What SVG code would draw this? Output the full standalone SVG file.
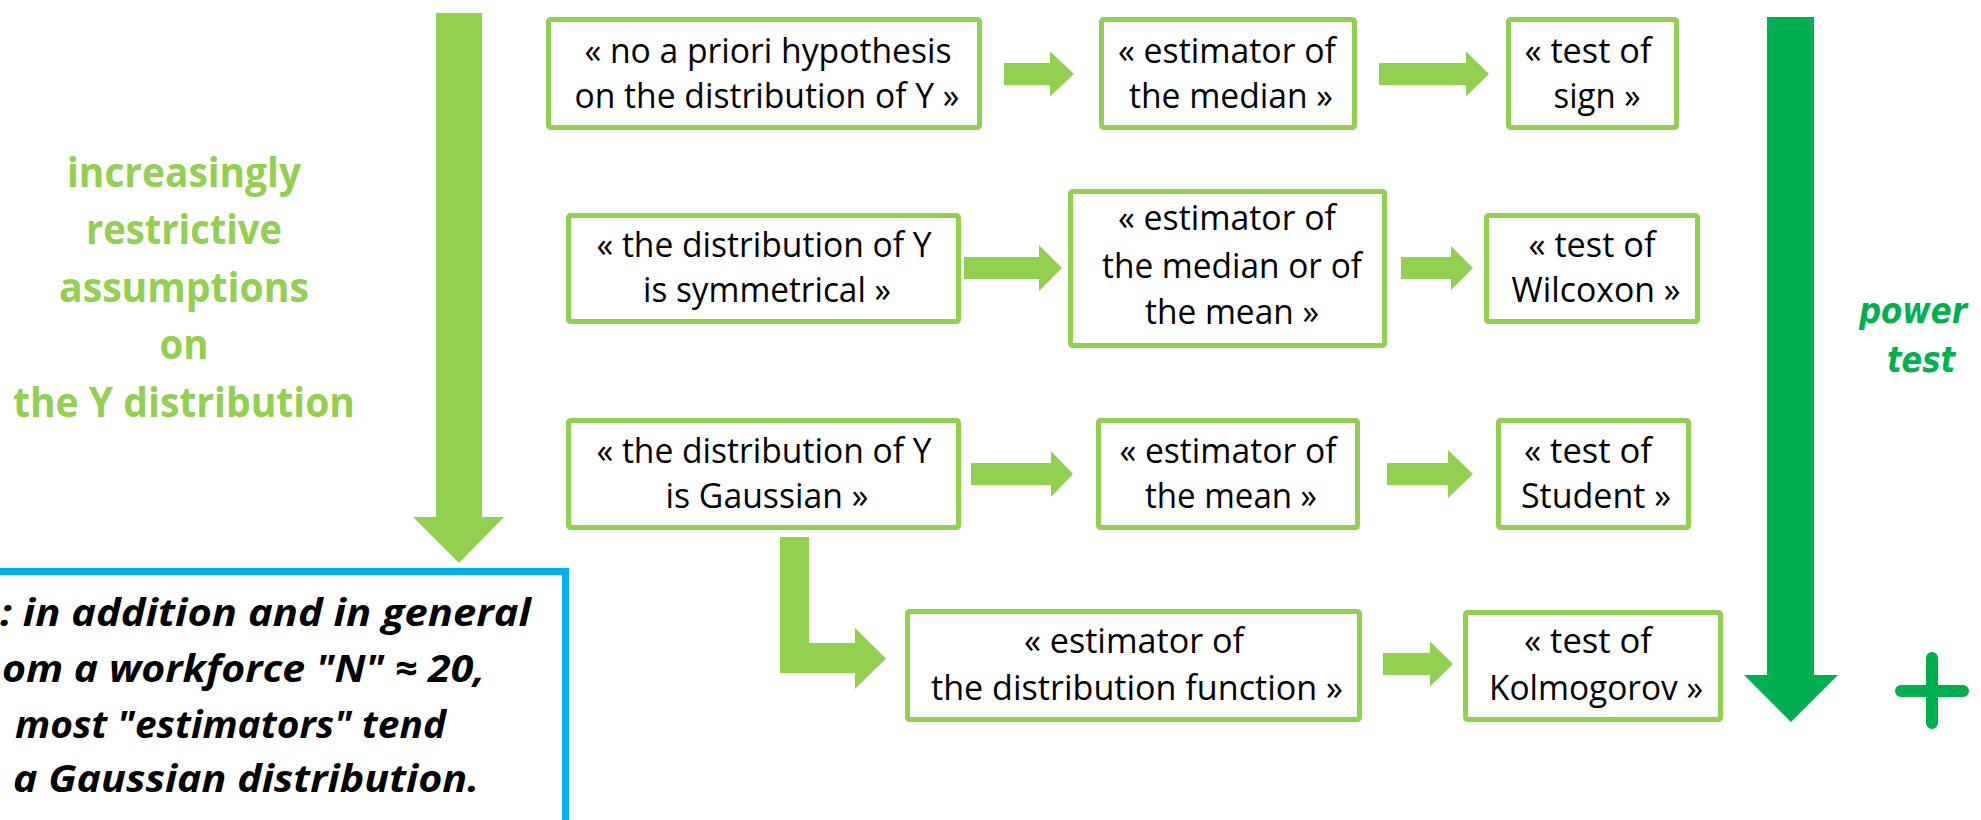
<svg xmlns="http://www.w3.org/2000/svg" width="1981" height="820" viewBox="0 0 1981 820">
<style>
.bg{fill:#ffffff}
.box{fill:#ffffff;stroke:#92D050;stroke-width:5}
.t{font-family:"Open Sans","Liberation Sans",sans-serif;font-size:34px;fill:#000000;text-anchor:middle}
.lt{font-family:"Open Sans","Liberation Sans",sans-serif;font-size:42px;font-weight:bold;fill:#92D050;text-anchor:middle}
.pt{font-family:"DejaVu Sans","Liberation Sans",sans-serif;font-size:36px;font-weight:bold;font-style:italic;fill:#00B050;text-anchor:middle}
.nt{font-family:"Open Sans","Liberation Sans",sans-serif;font-size:38px;font-weight:bold;font-style:italic;fill:#000000}
.arr{fill:#92D050}
.big{fill:#92D050}
.pow{fill:#00B050}
</style>
<rect class="bg" x="0" y="0" width="1981" height="820"/>

<g id="assumptions-arrow">
<polygon class="big" points="436,13 482,13 482,517 504,517 459,563 413,517 436,517"/>
<text class="lt" x="184" y="187" textLength="234" lengthAdjust="spacingAndGlyphs">increasingly</text>
<text class="lt" x="184" y="244" textLength="196" lengthAdjust="spacingAndGlyphs">restrictive</text>
<text class="lt" x="184" y="302" textLength="250" lengthAdjust="spacingAndGlyphs">assumptions</text>
<text class="lt" x="184" y="359" textLength="49" lengthAdjust="spacingAndGlyphs">on</text>
<text class="lt" x="184" y="417" textLength="342" lengthAdjust="spacingAndGlyphs">the Y distribution</text>
</g>

<g id="power-arrow">
<polygon class="pow" points="1767,17 1814,17 1814,675 1838,675 1791,722 1744,675 1767,675"/>
<text class="pt" x="1913" y="323" textLength="108" lengthAdjust="spacingAndGlyphs">power</text>
<text class="pt" x="1921" y="372" textLength="68" lengthAdjust="spacingAndGlyphs">test</text>
<path d="M1901,691 H1963 M1932,658 V723" stroke="#00B050" stroke-width="12" stroke-linecap="round" fill="none"/>
</g>

<g id="note">
<rect x="-10" y="571.5" width="575.5" height="252" fill="#ffffff" stroke="#00B0F0" stroke-width="7"/>
<text class="nt" x="0" y="626" textLength="531" lengthAdjust="spacingAndGlyphs">: in addition and in general</text>
<text class="nt" x="2" y="682" textLength="483" lengthAdjust="spacingAndGlyphs">om a workforce "N" ≈ 20,</text>
<text class="nt" x="15" y="738" textLength="431" lengthAdjust="spacingAndGlyphs">most "estimators" tend</text>
<text class="nt" x="13" y="792" textLength="466" lengthAdjust="spacingAndGlyphs">a Gaussian distribution.</text>
</g>

<g id="connectors">
<polygon class="arr" points="1004,63 1050,63 1050,51.5 1074,74 1050,96.5 1050,85 1004,85"/>
<polygon class="arr" points="1379,63 1466,63 1466,51.5 1489,74 1466,96.5 1466,85 1379,85"/>
<polygon class="arr" points="964,257 1039,257 1039,245 1062,268 1039,291 1039,279 964,279"/>
<polygon class="arr" points="1401,257 1451,257 1451,246 1473,268 1451,290 1451,279 1401,279"/>
<polygon class="arr" points="971,463 1051,463 1051,451 1073,474 1051,497 1051,485 971,485"/>
<polygon class="arr" points="1387,463 1448,463 1448,450 1473,474 1448,498 1448,485 1387,485"/>
<polygon class="arr" points="780,537 809,537 809,643 855,643 855,628 886,658.5 855,689 855,673 780,673"/>
<polygon class="arr" points="1383,653 1430,653 1430,641.5 1453,664 1430,686.5 1430,675 1383,675"/>
</g>

<g id="node-no-hypothesis">
<rect class="box" x="548.5" y="19.5" width="431" height="108" rx="2"/>
<text class="t" x="768" y="63" textLength="367" lengthAdjust="spacingAndGlyphs">« no a priori hypothesis</text>
<text class="t" x="767" y="108" textLength="385" lengthAdjust="spacingAndGlyphs">on the distribution of Y »</text>
</g>
<g id="node-estimator-median">
<rect class="box" x="1101.5" y="19.5" width="253" height="108" rx="2"/>
<text class="t" x="1227" y="63" textLength="218" lengthAdjust="spacingAndGlyphs">« estimator of</text>
<text class="t" x="1231" y="108" textLength="204" lengthAdjust="spacingAndGlyphs">the median »</text>
</g>
<g id="node-test-sign">
<rect class="box" x="1508.5" y="19.5" width="168" height="108" rx="2"/>
<text class="t" x="1588" y="63" textLength="127" lengthAdjust="spacingAndGlyphs">« test of</text>
<text class="t" x="1597" y="108" textLength="87" lengthAdjust="spacingAndGlyphs">sign »</text>
</g>

<g id="node-symmetrical">
<rect class="box" x="568.5" y="215.5" width="390" height="106" rx="2"/>
<text class="t" x="764" y="257" textLength="335" lengthAdjust="spacingAndGlyphs">« the distribution of Y</text>
<text class="t" x="767" y="302" textLength="248" lengthAdjust="spacingAndGlyphs">is symmetrical »</text>
</g>
<g id="node-estimator-median-mean">
<rect class="box" x="1070.5" y="191.5" width="314" height="154" rx="2"/>
<text class="t" x="1227" y="230" textLength="218" lengthAdjust="spacingAndGlyphs">« estimator of</text>
<text class="t" x="1232" y="278" textLength="260" lengthAdjust="spacingAndGlyphs">the median or of</text>
<text class="t" x="1232" y="324" textLength="174" lengthAdjust="spacingAndGlyphs">the mean »</text>
</g>
<g id="node-test-wilcoxon">
<rect class="box" x="1486.5" y="215.5" width="211" height="106" rx="2"/>
<text class="t" x="1592" y="257" textLength="127" lengthAdjust="spacingAndGlyphs">« test of</text>
<text class="t" x="1596" y="302" textLength="169" lengthAdjust="spacingAndGlyphs">Wilcoxon »</text>
</g>

<g id="node-gaussian">
<rect class="box" x="568.5" y="420.5" width="390" height="107" rx="2"/>
<text class="t" x="764" y="463" textLength="335" lengthAdjust="spacingAndGlyphs">« the distribution of Y</text>
<text class="t" x="767" y="508" textLength="203" lengthAdjust="spacingAndGlyphs">is Gaussian »</text>
</g>
<g id="node-estimator-mean">
<rect class="box" x="1098.5" y="420.5" width="259" height="107" rx="2"/>
<text class="t" x="1228" y="463" textLength="217" lengthAdjust="spacingAndGlyphs">« estimator of</text>
<text class="t" x="1231" y="508" textLength="172" lengthAdjust="spacingAndGlyphs">the mean »</text>
</g>
<g id="node-test-student">
<rect class="box" x="1498.5" y="420.5" width="190" height="107" rx="2"/>
<text class="t" x="1588" y="463" textLength="128" lengthAdjust="spacingAndGlyphs">« test of</text>
<text class="t" x="1596" y="508" textLength="150" lengthAdjust="spacingAndGlyphs">Student »</text>
</g>

<g id="node-estimator-distribution-function">
<rect class="box" x="907.5" y="611.5" width="452" height="108" rx="2"/>
<text class="t" x="1134" y="653" textLength="220" lengthAdjust="spacingAndGlyphs">« estimator of</text>
<text class="t" x="1137" y="700" textLength="412" lengthAdjust="spacingAndGlyphs">the distribution function »</text>
</g>
<g id="node-test-kolmogorov">
<rect class="box" x="1465.5" y="612.5" width="255" height="107" rx="2"/>
<text class="t" x="1588" y="653" textLength="128" lengthAdjust="spacingAndGlyphs">« test of</text>
<text class="t" x="1596" y="700" textLength="214" lengthAdjust="spacingAndGlyphs">Kolmogorov »</text>
</g>
</svg>
